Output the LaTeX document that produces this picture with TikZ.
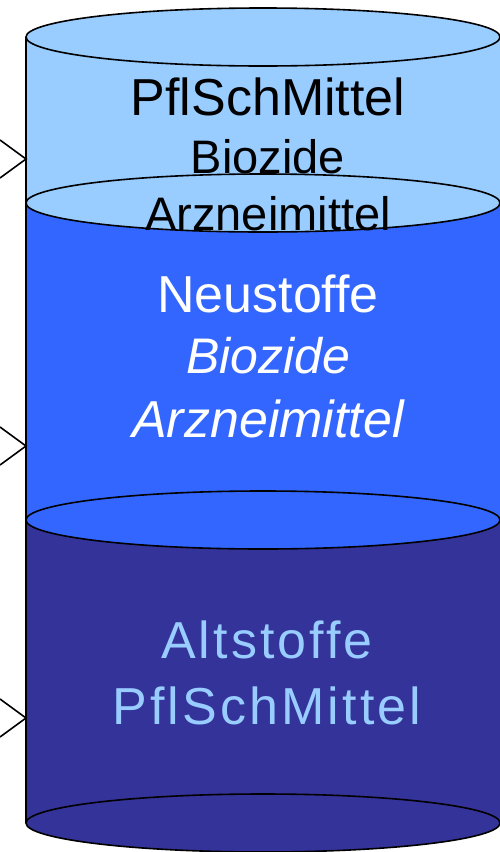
\documentclass[tikz,border=0pt]{standalone}
\usepackage{fontspec}
\setmainfont{Liberation Sans}
\usetikzlibrary{positioning}
\definecolor{paleblue}{HTML}{99CCFF}
\definecolor{midblue}{HTML}{3366FF}
\definecolor{deepblue}{HTML}{333399}
\tikzset{
  layer/.style    = {draw, line width=1.6pt},
  lid/.style      = {layer, x radius=237pt, y radius=29pt},
  pointer/.style  = {draw, line width=1.6pt, line join=miter},
  toptext/.style  = {anchor=base, inner sep=0pt, text=black},
  midtext/.style  = {anchor=base, inner sep=0pt, text=white},
  lowtext/.style  = {anchor=base, inner sep=0pt, text=paleblue,
                     font=\fontsize{52}{62}\selectfont\addfontfeature{LetterSpace=6}}
}

\begin{document}
\begin{tikzpicture}[x=1pt, y=-1pt]
  \useasboundingbox (0,0) rectangle (500,852);
  \clip (0,0) rectangle (500,852);

  % Altstoffe layer
  \fill [deepblue] (26,520) rectangle (501,823);
  \path [lid, fill=deepblue] (263,823) ellipse [];
  % Neustoffe layer
  \fill [midblue] (26,203) rectangle (501,520);
  \path [lid, fill=midblue] (263,520) ellipse [];
  % top layer
  \fill [paleblue] (26,37) rectangle (501,203);
  \path [lid, fill=paleblue] (263,203) ellipse [];
  \path [lid, fill=paleblue] (263,37) ellipse [];
  \draw [layer] (26,37) -- (26,823);

  % arrows coming in from the left
  \coordinate (inTop) at (26,159);
  \coordinate (inMid) at (26,446);
  \coordinate (inLow) at (26,718);
  \foreach \c in {inTop, inMid, inLow}
    \draw [pointer] (\c) ++(-26,-19) -- (\c) -- ++(-26,19);

  \node [toptext, font=\fontsize{52}{62}\selectfont] (pflTop) at (268,115) {PflSchMittel};
  \node [toptext, font=\fontsize{47}{56}\selectfont] (bioTop) [below=58pt of pflTop.base, anchor=base] {Biozide};
  \node [toptext, font=\fontsize{47}{56}\selectfont] (arzTop) [below=57pt of bioTop.base, anchor=base] {Arzneimittel};

  \node [midtext, font=\fontsize{52}{62}\selectfont] (neu) at (268,312) {Neustoffe};
  \node [midtext, font=\fontsize{50}{60}\selectfont\itshape] (bioMid) [below=61pt of neu.base, anchor=base] {Biozide};
  \node [midtext, font=\fontsize{52}{62}\selectfont\itshape] (arzMid) [below=64pt of bioMid.base, anchor=base] {Arzneimittel};

  \node [lowtext] (alt) at (267,658) {Altstoffe};
  \node [lowtext] (pflLow) [below=66pt of alt.base, anchor=base] {PflSchMittel};
\end{tikzpicture}
\end{document}
